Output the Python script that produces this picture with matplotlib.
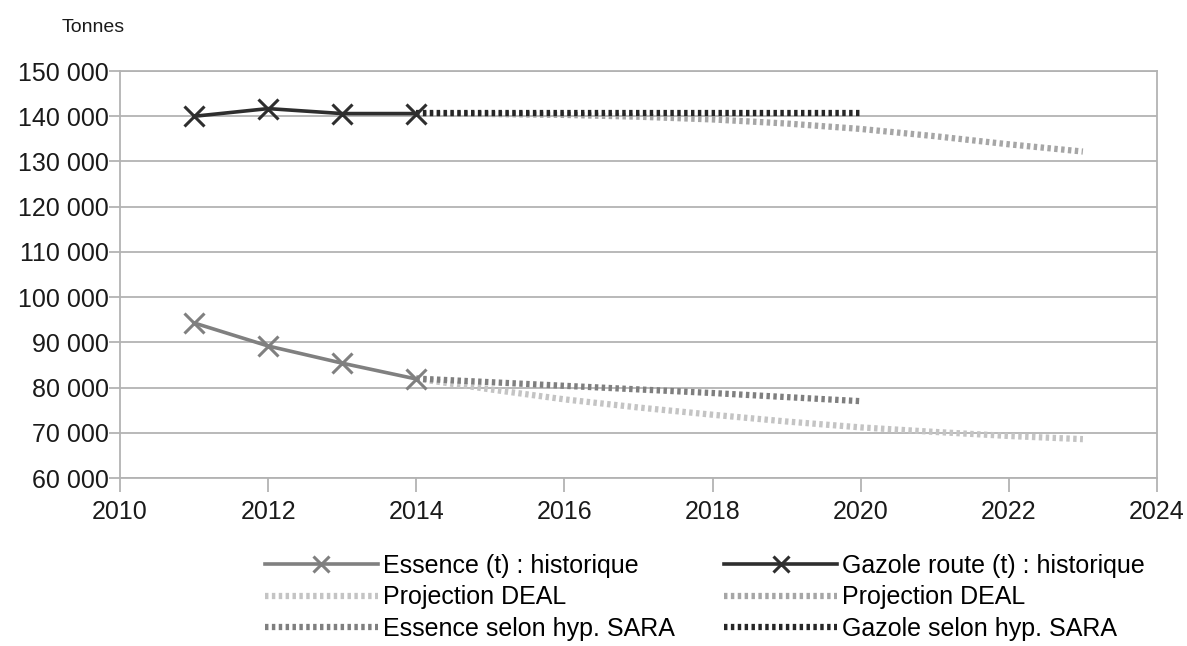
import matplotlib
matplotlib.use("Agg")
import matplotlib.pyplot as plt
from matplotlib.ticker import FuncFormatter, MultipleLocator

plt.rcParams['font.family'] = ['Liberation Sans', 'DejaVu Sans']

# Historical consumption (tonnes)
years_hist = [2011, 2012, 2013, 2014]
essence_hist = [94300, 89200, 85400, 81900]
gazole_hist = [140000, 141700, 140600, 140600]

# DEAL projections
years_deal = [2014, 2015, 2016, 2017, 2018, 2019, 2020, 2021, 2022, 2023]
essence_deal = [82000, 79600, 77400, 75600, 74000, 72500, 71200, 70200, 69300, 68600]
gazole_deal = [140600, 140500, 140300, 139900, 139300, 138400, 137200, 135600, 133800, 132200]

# SARA hypothesis
years_sara = [2014, 2015, 2016, 2017, 2018, 2019, 2020]
essence_sara = [82000, 81200, 80400, 79600, 78800, 77900, 77000]
gazole_sara = [140700, 140700, 140700, 140700, 140700, 140700, 140700]

fig = plt.figure(figsize=(11.87, 6.46), dpi=100)
ax = fig.add_axes([0.1011, 0.260, 0.8736, 0.630])

dot = (0, (0.55, 0.55))
lw_dot = 4.5
fs = 18

l_edeal, = ax.plot(years_deal, essence_deal, color='#c4c4c4', lw=lw_dot, ls=dot,
                   dash_capstyle='butt', label='Projection DEAL')
l_gdeal, = ax.plot(years_deal, gazole_deal, color='#a6a6a6', lw=lw_dot, ls=dot,
                   dash_capstyle='butt', label='Projection DEAL')
l_esara, = ax.plot(years_sara, essence_sara, color='#7f7f7f', lw=lw_dot, ls=dot,
                   dash_capstyle='butt', label='Essence selon hyp. SARA')
l_gsara, = ax.plot(years_sara, gazole_sara, color='#262626', lw=lw_dot, ls=dot,
                   dash_capstyle='butt', label='Gazole selon hyp. SARA')
l_ehist, = ax.plot(years_hist, essence_hist, color='#808080', lw=2.6, marker='x',
                   markersize=14, mew=2.2, label='Essence (t) : historique')
l_ghist, = ax.plot(years_hist, gazole_hist, color='#2e2e2e', lw=2.6, marker='x',
                   markersize=14, mew=2.2, label='Gazole route (t) : historique')

ax.set_xlim(2010, 2024)
ax.set_ylim(60000, 150000)
ax.xaxis.set_major_locator(MultipleLocator(2))
ax.yaxis.set_major_locator(MultipleLocator(10000))
ax.yaxis.set_major_formatter(FuncFormatter(lambda v, p: f"{int(v):,}".replace(',', ' ')))

ax.grid(axis='y', color='#b3b3b3', lw=1.3)
ax.set_axisbelow(True)
for s in ax.spines.values():
    s.set_color('#b3b3b3')
    s.set_linewidth(1.3)
ax.tick_params(axis='both', colors='#b3b3b3', labelcolor='#1a1a1a', labelsize=fs,
               width=1.3)
ax.tick_params(axis='y', length=8, pad=0)
ax.tick_params(axis='x', length=10, pad=6)

fig.text(0.052, 0.958, 'Tonnes', fontsize=14, color='#1a1a1a', va='center')

handles = [l_ehist, l_edeal, l_esara, l_ghist, l_gdeal, l_gsara]
fig.legend(handles=handles, labels=[h.get_label() for h in handles], ncol=2,
           loc='upper left', bbox_to_anchor=(0.2233, 0.143), frameon=False,
           fontsize=fs, handlelength=4.5, handletextpad=0.2, columnspacing=2.0,
           labelspacing=0.31, borderaxespad=0, borderpad=0, markerscale=0.8)

fig.savefig('out.png', dpi=100)
